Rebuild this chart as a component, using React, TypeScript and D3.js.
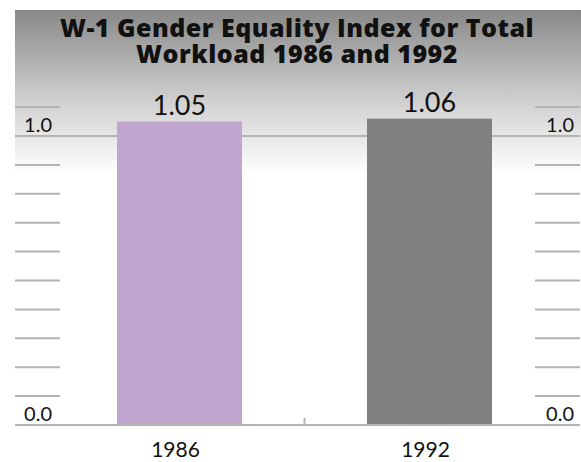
import React from 'react';
import * as d3 from 'd3';

const years = ['1986', '1992'];
const indexValues = [1.05, 1.06];
const barColors = ['#c0a6cf', '#808080'];
const labeledTicks = [0, 1.0];
const minorTicks = [0.1, 0.2, 0.3, 0.4, 0.5, 0.6, 0.7, 0.8, 0.9, 1.1];
const titleLines = ['W-1 Gender Equality Index for Total', 'Workload 1986 and 1992'];

const W = 581;
const H = 462;
const left = 15;
const right = 580;
const gridColor = '#b3b3b3';
const font = 'Lato, "Open Sans", sans-serif';

export default function App() {
  // y: 0.0 sits on the baseline, 1.0 on the full-width grid line
  const y = d3.scaleLinear().domain([0, 1]).range([425, 136]);
  const x = d3
    .scaleBand<string>()
    .domain(years)
    .range([54.5, 554.5])
    .paddingInner(0.5)
    .paddingOuter(0.25);
  const mid = (x('1986')! + x.bandwidth() + x('1992')!) / 2;

  return (
    <svg
      width={W}
      height={H}
      style={{ position: 'absolute', left: 0, top: 0, background: '#fff' }}
    >
      <defs>
        <linearGradient id="bg" x1="0" y1="0" x2="0" y2="1">
          <stop offset="0" stopColor="#888888" />
          <stop offset="0.55" stopColor="#d0d0d0" />
          <stop offset="1" stopColor="#ffffff" />
        </linearGradient>
      </defs>
      <rect x={left} y={10} width={W - left} height={165} fill="url(#bg)" />

      {/* two-line title kept in one text element */}
      <text
        textAnchor="middle"
        fontFamily='"Open Sans", sans-serif'
        fontWeight={800}
        fontSize={25}
        letterSpacing={0.5}
        fill="#111"
      >
        {titleLines.map((t, i) => (
          <tspan key={t} x={297} y={37 + i * 26}>
            {t}
          </tspan>
        ))}
      </text>

      {/* short tick marks at both sides */}
      {minorTicks.map((t) => (
        <g key={t} stroke={gridColor} strokeWidth={2}>
          <line x1={left} x2={60} y1={y(t)} y2={y(t)} />
          <line x1={535} x2={right} y1={y(t)} y2={y(t)} />
        </g>
      ))}
      {labeledTicks.map((t) => (
        <g key={t}>
          <line x1={left} x2={right} y1={y(t)} y2={y(t)} stroke={gridColor} strokeWidth={2} />
          <text x={52} y={y(t) - 4} textAnchor="end" fontFamily={font} fontSize={20} fill="#111">
            {d3.format('.1f')(t)}
          </text>
          <text x={574} y={y(t) - 4} textAnchor="end" fontFamily={font} fontSize={20} fill="#111">
            {d3.format('.1f')(t)}
          </text>
        </g>
      ))}
      <line x1={mid} x2={mid} y1={y(0) - 7} y2={y(0)} stroke={gridColor} strokeWidth={2} />

      {years.map((yr, i) => (
        <g key={yr}>
          <rect
            x={x(yr)}
            y={y(indexValues[i])}
            width={x.bandwidth()}
            height={y(0) - 1 - y(indexValues[i])}
            fill={barColors[i]}
          />
          <text
            x={x(yr)! + x.bandwidth() / 2}
            y={y(indexValues[i]) - 7}
            textAnchor="middle"
            fontFamily={font}
            fontSize={27}
            fill="#111"
          >
            {d3.format('.2f')(indexValues[i])}
          </text>
          <text
            x={x(yr)! + x.bandwidth() / 2 - 4}
            y={457}
            textAnchor="middle"
            fontFamily={font}
            fontSize={21}
            fill="#111"
          >
            {yr}
          </text>
        </g>
      ))}
    </svg>
  );
}
